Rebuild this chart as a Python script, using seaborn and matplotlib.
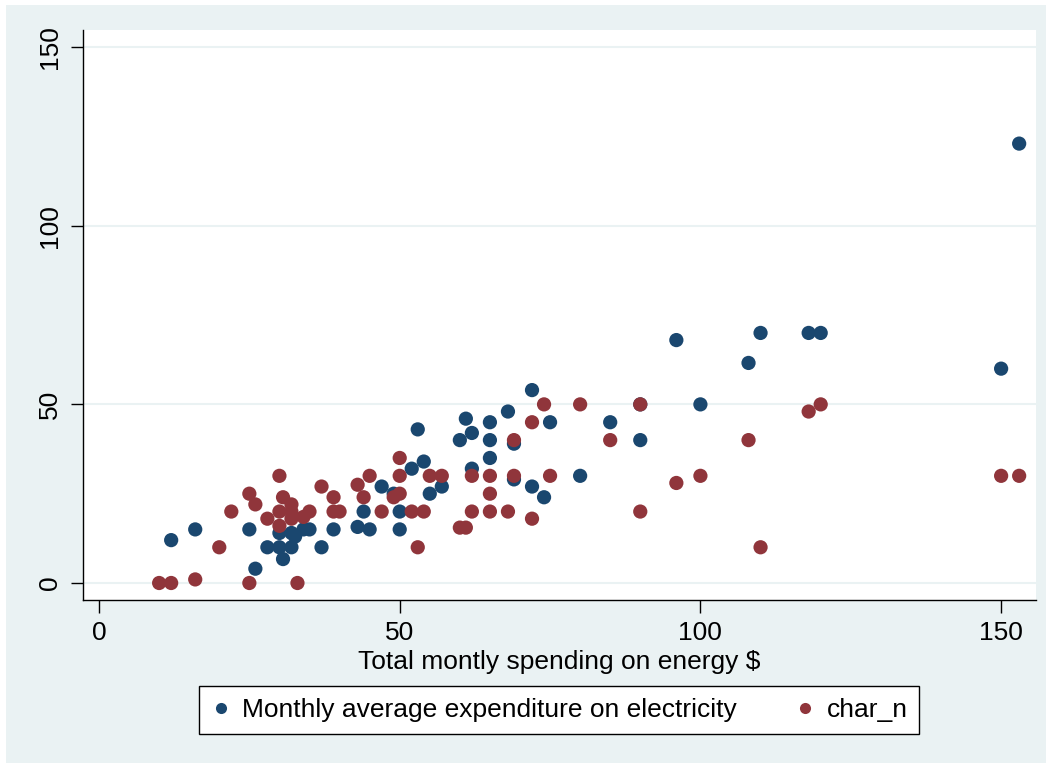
import matplotlib
matplotlib.use("Agg")
import matplotlib.pyplot as plt
import seaborn as sns
import pandas as pd
from matplotlib.patches import Rectangle
from matplotlib.lines import Line2D

# Monthly average expenditure on electricity (blue)
elec_x = [12, 16, 25, 26, 28, 30, 30, 30.6, 32, 32, 32.6, 34, 35, 37, 39, 43, 44, 45, 47, 49,
          50, 50, 52, 53, 54, 55, 57, 60, 61, 62, 62, 65, 65, 65, 68, 69, 69, 72, 72, 74,
          75, 80, 85, 90, 90, 96, 100, 108, 110, 118, 120, 150, 153]
elec_y = [12, 15, 15, 4, 10, 10, 14, 6.7, 10, 14, 13, 15, 15, 10, 15, 15.7, 20, 15, 27, 25,
          20, 15, 32, 43, 34, 25, 27, 40, 46, 42, 32, 45, 40, 35, 48, 39, 29, 54, 27, 24,
          45, 30, 45, 40, 50, 68, 50, 61.6, 70, 70, 70, 60, 123]

# char_n (red)
char_x = [10, 12, 16, 20, 22, 25, 26, 25, 28, 30, 30, 30.6, 30, 32, 32, 32, 34, 35, 33, 37,
          39, 39, 40, 43, 44, 45, 47, 49, 50, 50, 50, 52, 53, 54, 55, 57, 60, 61, 62, 62,
          65, 65, 65, 68, 69, 69, 72, 72, 74, 75, 80, 85, 90, 90, 96, 100, 108, 110, 118, 120,
          150, 153]
char_y = [0, 0, 1, 10, 20, 25, 22, 0, 18, 30, 20, 24, 16, 22, 20, 18, 18.5, 20, 0, 27,
          24, 20, 20, 27.5, 24, 30, 20, 24, 25, 35, 30, 20, 10, 20, 30, 30, 15.5, 15.5, 30, 20,
          30, 25, 20, 20, 40, 30, 45, 18, 50, 30, 50, 40, 50, 20, 28, 30, 40, 10, 48, 50,
          30, 30]

label_elec = "Monthly average expenditure on electricity"
label_char = "char_n"
x_ticks = [0, 50, 100, 150]
y_ticks = [0, 50, 100, 150]

df = pd.concat([
    pd.DataFrame({"x": elec_x, "y": elec_y, "series": label_elec}),
    pd.DataFrame({"x": char_x, "y": char_y, "series": label_char}),
], ignore_index=True)

sns.set_style("white")
plt.rcParams["font.family"] = ["Liberation Sans", "DejaVu Sans"]
plt.rcParams["text.color"] = "black"
plt.rcParams["axes.labelcolor"] = "black"
plt.rcParams["xtick.color"] = "black"
plt.rcParams["ytick.color"] = "black"

W, H = 1052, 769
fig = plt.figure(figsize=(W / 100, H / 100), dpi=100, facecolor="white")
bg = "#EAF2F3"
fig.patches.append(Rectangle((6 / W, 6 / H), (W - 12) / W, (H - 11) / H,
                             transform=fig.transFigure, facecolor=bg, edgecolor="none", zorder=-10))

ax = fig.add_axes([83 / W, (H - 600) / H, (1036 - 83) / W, (600 - 30) / H])
ax.set_facecolor("white")

palette = {label_elec: "#1a476f", label_char: "#90353b"}
sns.scatterplot(data=df, x="x", y="y", hue="series", palette=palette, s=105,
                linewidth=0, ax=ax, legend=False, zorder=3)

ax.set_xlim(-2.66, 155.8)
ax.set_ylim(-4.76, 154.8)
ax.set_xticks(x_ticks)
ax.set_yticks(y_ticks)
ax.set_xticklabels([str(t) for t in x_ticks])
ax.set_yticklabels([str(t) for t in y_ticks], rotation=90, va="center")
ax.grid(axis="y", color=bg, linewidth=1.5, zorder=0)
ax.grid(axis="x", visible=False)
ax.set_axisbelow(True)
for side in ["top", "right"]:
    ax.spines[side].set_visible(False)
for side in ["left", "bottom"]:
    ax.spines[side].set_color("black")
    ax.spines[side].set_linewidth(1.0)
ax.tick_params(axis="both", direction="out", length=9, width=1.0, color="black",
               labelsize=19, pad=6, left=True, bottom=True)
ax.set_xlabel("Total montly spending on energy $", fontsize=19, labelpad=4)
ax.set_ylabel("")

handles = [Line2D([], [], marker="o", linestyle="none", markersize=8,
                  markerfacecolor=palette[l], markeredgewidth=0) for l in [label_elec, label_char]]
leg = fig.legend(handles, [label_elec, label_char], loc="center",
                 bbox_to_anchor=(559 / W, 1 - 710 / H), ncol=2, fontsize=19,
                 frameon=True, fancybox=False, edgecolor="black", facecolor="white",
                 framealpha=1, handletextpad=0.4, columnspacing=2.2, borderpad=0.45,
                 handlelength=0.8)
leg.get_frame().set_linewidth(1.0)

fig.savefig("out.png", dpi=100, facecolor="white")
